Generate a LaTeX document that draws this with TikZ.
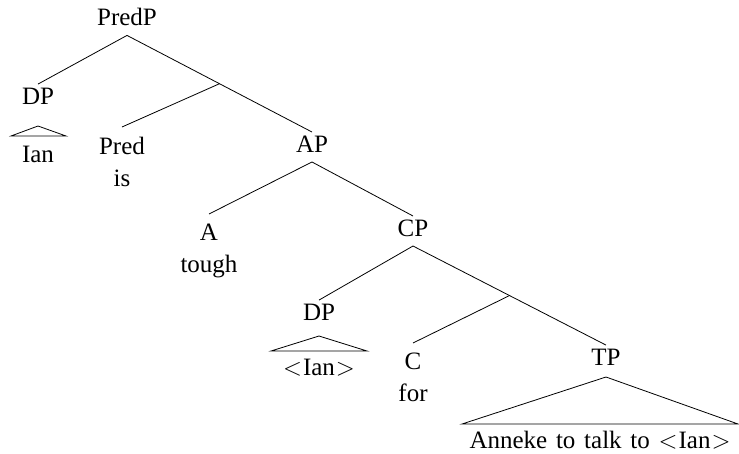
\documentclass[tikz,border=0pt]{standalone}
\usepackage{fontspec}
\setmainfont[WordSpace=1.4]{Liberation Serif}
\usepackage{tikz}
\usetikzlibrary{calc,positioning}

\begin{document}
\begin{tikzpicture}[x=1pt,y=-1pt,line width=0.8pt]
      \tikzstyle{pnode} = [font=\fontsize{25}{31}\selectfont, text depth=6pt]
      \tikzstyle{hnode} = [font=\fontsize{25}{32}\selectfont, align=center, anchor=north, inner ysep=9.5pt]
      \tikzstyle{tnode} = [font=\fontsize{25}{31}\selectfont]
      \useasboundingbox (0,0) rectangle (739,453);

      \node[pnode] (predp) at (127,20) {PredP};
      \node[pnode] (dp1) at (38,99) {DP};
      \node[tnode] (ian1) at (38,154) {Ian};
      \node[hnode] (pred) at (122,127) {Pred\\is};
      \node[pnode] (ap) at (312,147) {AP};
      \node[hnode] (tough) at (209,214) {A\\tough};
      \node[pnode] (cp) at (413,231) {CP};
      \node[pnode] (dp2) at (319,315) {DP};
      \node[tnode] (ian2) at (319,368) {$<$\kern1pt Ian\kern1pt$>$};
      \node[hnode] (for) at (413,343) {C\\for};
      \node[pnode] (tp) at (606,360) {TP};
      \node[tnode] (anneke) at (600,440) {Anneke to talk to $<$\kern1pt Ian\kern1pt$>$};

      \coordinate (predbar) at ($(predp.south)!0.5!(ap.north)$);
      \coordinate (cbar) at ($(cp.south)!0.5!(tp.north)$);

      \draw (predp.south) -- (dp1.north);
      \draw (predp.south) -- (ap.north);
      \draw (predbar) -- (pred.north);
      \draw (ap.south) -- (tough.north);
      \draw (ap.south) -- (cp.north);
      \draw (cp.south) -- (dp2.north);
      \draw (cp.south) -- (tp.north);
      \draw (cbar) -- (for.north);

      % roofs
      \draw (38,126) -- (11,136) -- (66,136) -- cycle;
      \draw (319,336) -- (271,351) -- (367,351) -- cycle;
      \draw (606,377) -- (462,424) -- (738,424) -- cycle;
    \end{tikzpicture}
\end{document}
